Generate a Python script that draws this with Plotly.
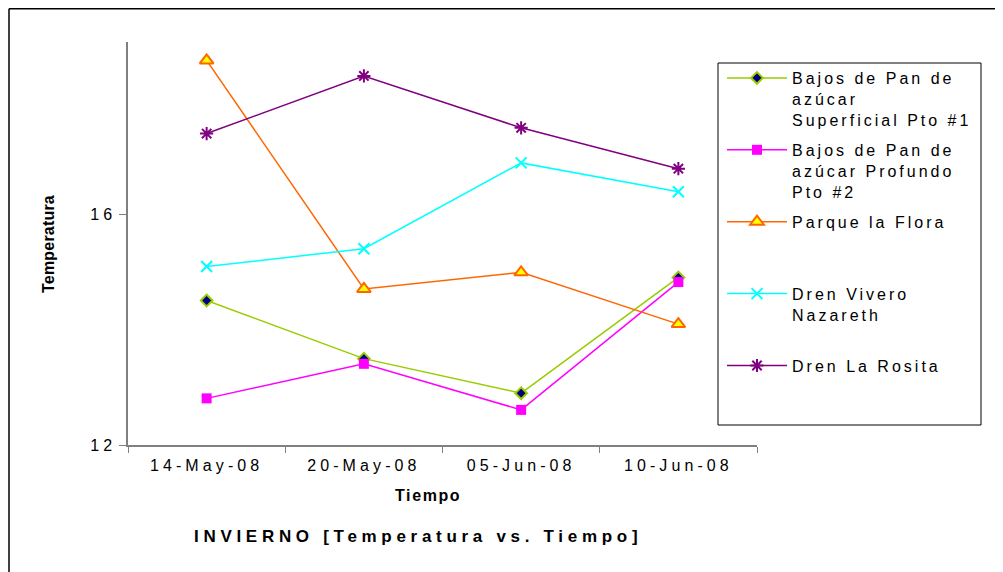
import plotly.graph_objects as go

dates = ["14-May-08", "20-May-08", "05-Jun-08", "10-Jun-08"]
superficial = [14.51, 13.50, 12.90, 14.91]
profundo = [12.81, 13.41, 12.61, 14.83]
flora = [18.68, 14.71, 15.00, 14.10]
vivero = [15.10, 15.41, 16.90, 16.40]
rosita = [17.41, 18.41, 17.51, 16.80]
y_ticks = [12, 16]

names = [
    ["Bajos de Pan de", "azúcar", "Superficial Pto #1"],
    ["Bajos de Pan de", "azúcar Profundo", "Pto #2"],
    ["Parque la Flora"],
    ["Dren Vivero", "Nazareth"],
    ["Dren La Rosita"],
]

FONT = "Liberation Sans, Arial, sans-serif"

# page has an 8px body margin; plot area in reference pixels: x 128..757, y 42..445
PX0, PY0, PW, PH = 128, 445, 629, 403


def px(x):
    return (x - PX0) / PW


def py(y):
    return (PY0 - y) / PH


def sp(text, s):
    return f'<span style="letter-spacing:{s}px">{text}</span>'


def legend_name(lines, s=3.0, n=3):
    parts = [sp(l, s) for l in lines]
    while len(parts) < n:
        parts.append(" ")
    return "<br>".join(parts)


series = [
    (superficial, "#99CC00", dict(symbol="diamond", size=9, color="#000080",
                                   line=dict(color="#99CC00", width=2))),
    (profundo, "#FF00FF", dict(symbol="square", size=10, color="#FF00FF",
                                line=dict(color="#FF00FF", width=0))),
    (flora, "#FF6600", dict(symbol="triangle-up", size=12, color="#FFFF00",
                             line=dict(color="#FF6600", width=2))),
    (vivero, "#00FFFF", dict(symbol="x-thin-open", size=11,
                              line=dict(color="#00FFFF", width=2))),
    (rosita, "#800080", dict(symbol="asterisk-open", size=11,
                              line=dict(color="#800080", width=2))),
]

fig = go.Figure()
for (vals, col, mk), nm in zip(series, names):
    fig.add_trace(go.Scatter(
        x=dates, y=vals, mode="lines+markers",
        name=legend_name(nm), legendgroup=nm[0] + nm[-1],
        line=dict(color=col, width=1.5), marker=mk,
    ))

fig.add_shape(type="rect", xref="paper", yref="paper",
              x0=px(718), x1=px(981), y0=py(425), y1=py(63),
              line=dict(color="black", width=1), fillcolor="white", layer="above")
# outer chart border (top and left visible)
fig.add_shape(type="line", xref="paper", yref="paper",
              x0=px(9), x1=px(1010), y0=py(8.8), y1=py(8.8),
              line=dict(color="black", width=1.5))
fig.add_shape(type="line", xref="paper", yref="paper",
              x0=px(9), x1=px(9), y0=py(8.8), y1=py(580),
              line=dict(color="black", width=1.5))

fig.add_annotation(text="<b>" + sp("INVIERNO [Temperatura vs. Tiempo]", 4.7) + "</b>",
                   xref="paper", yref="paper", x=px(418), y=py(536),
                   showarrow=False, font=dict(family=FONT, size=17, color="black"),
                   xanchor="center", yanchor="middle")
fig.add_annotation(text="<b>" + sp("Tiempo", 1.6) + "</b>",
                   xref="paper", yref="paper", x=px(428), y=py(495),
                   showarrow=False, font=dict(family=FONT, size=16, color="black"),
                   xanchor="center", yanchor="middle")
fig.add_annotation(text="<b>" + sp("Temperatura", 0.2) + "</b>",
                   xref="paper", yref="paper", x=px(48), y=py(244),
                   showarrow=False, textangle=-90,
                   font=dict(family=FONT, size=16, color="black"),
                   xanchor="center", yanchor="middle")

fig.update_layout(
    width=995, height=564,
    margin=dict(l=120, r=246, t=34, b=127),
    paper_bgcolor="white", plot_bgcolor="white",
    font=dict(family=FONT, size=16, color="black"),
    showlegend=True,
    legend=dict(x=px(722), y=py(61), xanchor="left", yanchor="top",
                bgcolor="rgba(0,0,0,0)", borderwidth=0, valign="top",
                tracegroupgap=6.5, itemwidth=60,
                font=dict(family=FONT, size=16, color="black")),
    xaxis=dict(type="category", range=[-0.5, 3.5], tickson="boundaries",
               tickmode="array", tickvals=dates, ticktext=[sp(d, 4.1) for d in dates],
               showline=True, linecolor="#808080", linewidth=1.5,
               ticks="outside", ticklen=6, tickcolor="#808080",
               ticklabelstandoff=5,
               showgrid=False, zeroline=False,
               tickfont=dict(family=FONT, size=16, color="black")),
    yaxis=dict(range=[12, 19], tickmode="array", tickvals=y_ticks,
               ticktext=[sp(str(v), 4) for v in y_ticks],
               showline=True, linecolor="#808080", linewidth=1.5,
               ticks="outside", ticklen=7, tickcolor="#808080",
               showgrid=False, zeroline=False,
               tickfont=dict(family=FONT, size=16, color="black")),
)

fig.write_html("out.html")
